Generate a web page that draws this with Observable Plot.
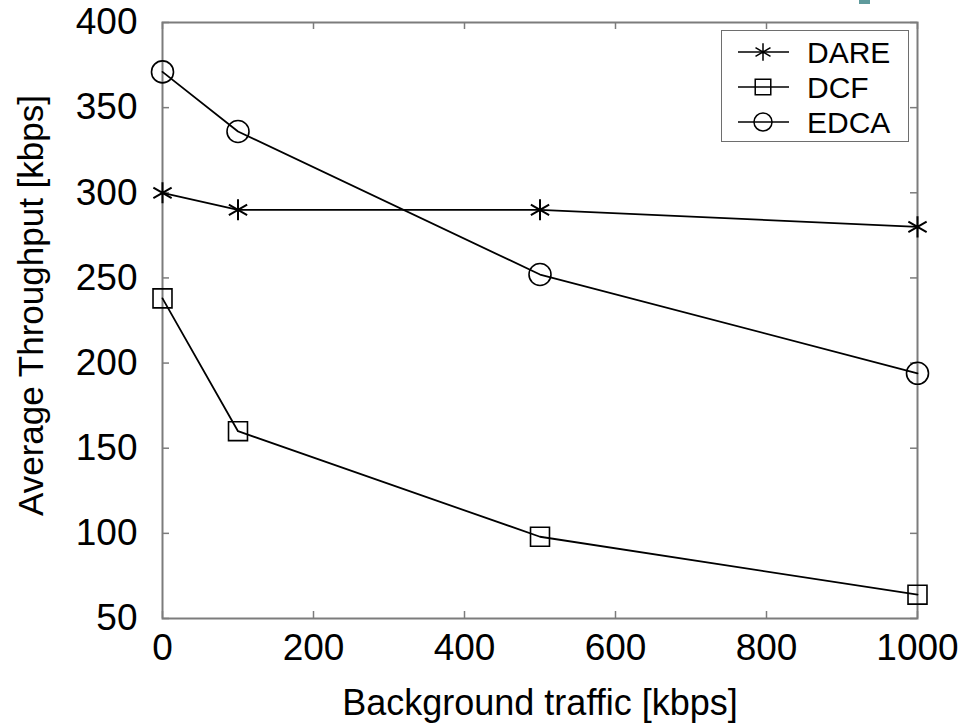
<!DOCTYPE html>
<html>
<head>
<meta charset="utf-8">
<script src="https://cdn.jsdelivr.net/npm/d3@7"></script>
<script src="https://cdn.jsdelivr.net/npm/@observablehq/plot@0.6"></script>
<style>
  html, body { margin: 0; padding: 0; background: #fff; }
  #wrap { position: relative; width: 958px; height: 724px; overflow: hidden;
          font-family: "Liberation Sans", Arial, sans-serif; }
  #teal { position: absolute; left: 859px; top: 0; width: 11px; height: 4px; background: #5f9a9c; }
  #legend { position: absolute; left: 721px; top: 30px; width: 186px; height: 110px;
            border: 1.5px solid #6e6e6e; background: #fff; }
</style>
</head>
<body>
<div id="wrap"><div id="teal"></div></div>
<script>
// ---- data ----
const traffic = [0, 100, 500, 1000];            // Background traffic [kbps]
const dareValues = [300, 290, 290, 280];
const dcfValues  = [238, 160, 98, 64];
const edcaValues = [371, 336, 252, 194];
const seriesNames = ["DARE", "DCF", "EDCA"];
const seriesSymbols = ["asterisk", "square", "circle"];
const xTicks = [0, 200, 400, 600, 800, 1000];
const yTicks = [50, 100, 150, 200, 250, 300, 350, 400];
const xTitle = "Background traffic [kbps]";
const yTitle = "Average Throughput [kbps]";

const seriesValues = [dareValues, dcfValues, edcaValues];
const symbolRadius = {asterisk: 10, square: 10.7, circle: 11};
const rows = seriesNames.map((s, i) => traffic.map((t, j) => ({series: s, x: t, y: seriesValues[i][j]})));

const FRAME = "#7c7c7c";
const TICKLEN = 7;
const W = 958, H = 724, mL = 162, mR = 41, mT = 22, mB = 106;
const fw = W - mL - mR, fh = H - mT - mB;

const marks = [
  Plot.frame({stroke: FRAME, strokeWidth: 2}),
  // inward ticks on all four sides
  Plot.tickX(xTicks, {x: d => d, insetTop: fh - TICKLEN, stroke: FRAME, strokeWidth: 1.5}),
  Plot.tickX(xTicks, {x: d => d, insetBottom: fh - TICKLEN, stroke: FRAME, strokeWidth: 1.5}),
  Plot.tickY(yTicks, {y: d => d, insetRight: fw - TICKLEN, stroke: FRAME, strokeWidth: 1.5}),
  Plot.tickY(yTicks, {y: d => d, insetLeft: fw - TICKLEN, stroke: FRAME, strokeWidth: 1.5}),
  Plot.axisX({ticks: xTicks, tickSize: 0, tickPadding: 15, label: null, fontSize: 37, tickFormat: d => String(d)}),
  Plot.axisY({ticks: yTicks, tickSize: 0, tickPadding: 25, label: null, fontSize: 37, tickFormat: d => String(d)}),
  Plot.text([xTitle], {text: d => d, frameAnchor: "bottom", textAnchor: "middle", lineAnchor: "top", dy: 71, fontSize: 36}),
  Plot.text([yTitle], {text: d => d, frameAnchor: "left", textAnchor: "middle", lineAnchor: "top", rotate: -90, dx: -144, dy: -15, fontSize: 35})
];
rows.forEach((r, i) => {
  marks.push(Plot.line(r, {x: "x", y: "y", stroke: "#000", strokeWidth: 1.8}));
  marks.push(Plot.dot(r, {x: "x", y: "y", symbol: seriesSymbols[i], r: symbolRadius[seriesSymbols[i]],
                          stroke: "#000", fill: "none", strokeWidth: seriesSymbols[i] === "asterisk" ? 2 : 1.6}));
});

const chart = Plot.plot({
  width: W, height: H,
  marginLeft: mL, marginRight: mR, marginTop: mT, marginBottom: mB,
  x: {domain: [0, 1000]},
  y: {domain: [50, 400]},
  style: {fontFamily: "'Liberation Sans', Arial, sans-serif", fontSize: "37px", color: "#000", background: "transparent"},
  marks
});
chart.style.position = "absolute";
chart.style.left = "0px";
chart.style.top = "0px";
document.getElementById("wrap").appendChild(chart);

// legend (inside plot area, top-right)
const legend = document.createElement("div");
legend.id = "legend";
const ns = "http://www.w3.org/2000/svg";
const lsvg = document.createElementNS(ns, "svg");
lsvg.setAttribute("width", 186);
lsvg.setAttribute("height", 110);
lsvg.style.display = "block";
seriesNames.forEach((name, i) => {
  const cy = 21 + i * 35;
  const line = document.createElementNS(ns, "line");
  line.setAttribute("x1", 16); line.setAttribute("x2", 67);
  line.setAttribute("y1", cy); line.setAttribute("y2", cy);
  line.setAttribute("stroke", "#000"); line.setAttribute("stroke-width", 1.6);
  lsvg.appendChild(line);
  const sym = {asterisk: d3.symbolAsterisk, square: d3.symbolSquare, circle: d3.symbolCircle}[seriesSymbols[i]];
  const rr = symbolRadius[seriesSymbols[i]] * 0.82;
  const p = document.createElementNS(ns, "path");
  p.setAttribute("d", d3.symbol(sym, Math.PI * rr * rr)());
  p.setAttribute("transform", `translate(41,${cy})`);
  p.setAttribute("fill", "none"); p.setAttribute("stroke", "#000"); p.setAttribute("stroke-width", 1.5);
  lsvg.appendChild(p);
  const t = document.createElementNS(ns, "text");
  t.setAttribute("x", 85); t.setAttribute("y", cy + 11);
  t.setAttribute("font-size", 30);
  t.setAttribute("font-family", "'Liberation Sans', Arial, sans-serif");
  t.textContent = name;
  lsvg.appendChild(t);
});
legend.appendChild(lsvg);
document.getElementById("wrap").appendChild(legend);
</script>
</body>
</html>
